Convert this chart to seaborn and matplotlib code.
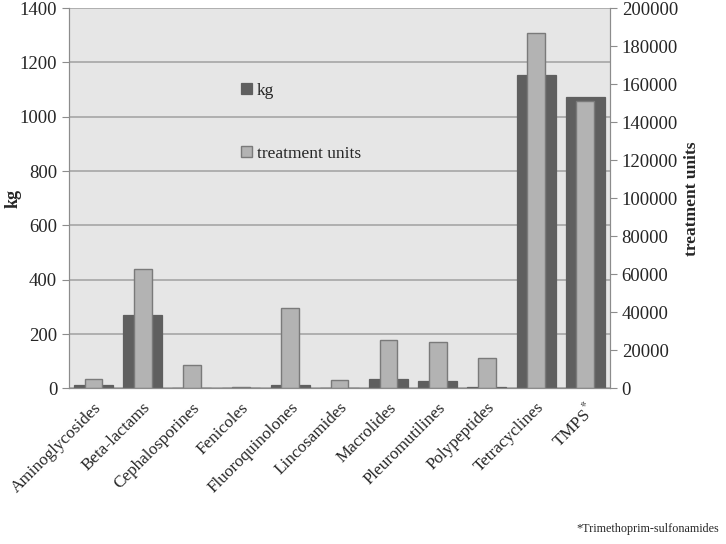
import matplotlib
matplotlib.use('Agg')
import matplotlib.pyplot as plt
import pandas as pd
import seaborn as sns

# Data
categories = ['Aminoglycosides', 'Beta-lactams', 'Cephalosporines', 'Fenicoles',
              'Fluoroquinolones', 'Lincosamides', 'Macrolides', 'Pleuromutilines',
              'Polypeptides', 'Tetracyclines', 'TMPS$^{*}$']
kg = [11, 270, 3, 2, 13, 3, 36, 29, 6, 1153, 1074]
treatment_units = [5200, 63000, 12100, 500, 42300, 4500, 25400, 24300, 16000, 187100, 151000]

df = pd.DataFrame({'category': categories, 'kg': kg, 'units': treatment_units})

sns.set_style('white')
plt.rcParams['font.family'] = ['Liberation Serif', 'DejaVu Serif']
plt.rcParams['mathtext.fontset'] = 'stix'

dark = '#5f5f5f'
light = '#b3b3b3'
grid_c = '#a6a6a6'

fig = plt.figure(figsize=(7.26, 5.44), dpi=100)
ax = fig.add_axes([0.095, 0.286, 0.745, 0.699])
ax.set_facecolor('#e6e6e6')

sns.barplot(data=df, x='category', y='kg', color=dark, saturation=1, width=0.79,
            edgecolor=dark, linewidth=0.9, ax=ax, label='kg')
ax.set_ylim(0, 1400)
ax.set_yticks(range(0, 1401, 200))
ax.yaxis.grid(True, color=grid_c, linewidth=1.2)
ax.set_axisbelow(True)

ax2 = ax.twinx()
sns.barplot(data=df, x='category', y='units', color=light, saturation=1, width=0.36,
            edgecolor='#7a7a7a', linewidth=1, ax=ax2, label='treatment units')
ax2.set_ylim(0, 200000)
ax2.set_yticks(range(0, 200001, 20000))
ax2.set_xlim(-0.5, len(categories) - 0.5)
ax.set_xlim(-0.5, len(categories) - 0.5)

for a in (ax, ax2):
    a.spines['top'].set_visible(False)
    for s in ('left', 'right', 'bottom'):
        a.spines[s].set_color('#8c8c8c')
    a.tick_params(axis='y', direction='out', length=5, color='#8c8c8c', labelsize=13.5)
    a.set_xlabel('')

ax.tick_params(axis='y', left=True)
ax2.tick_params(axis='y', right=True)
ax.set_ylabel('kg', fontsize=13, fontweight='bold')
ax.yaxis.set_label_coords(-0.087, 0.5)
ax2.set_ylabel('treatment units', fontsize=12.5, fontweight='bold')
ax2.yaxis.set_label_coords(1.137, 0.5)

# category ticks: labels at centres, tick marks at boundaries
ax.set_xticks(range(len(categories)))
ax.set_xticklabels(categories, rotation=45, ha='right', rotation_mode='anchor', fontsize=12.3)
ax.tick_params(axis='x', which='major', length=0, pad=8)
ax.set_xticks([i - 0.5 for i in range(len(categories) + 1)], minor=True)
ax.tick_params(axis='x', which='minor', length=5, color='#8c8c8c', direction='out')
ax2.tick_params(axis='x', bottom=False, labelbottom=False)

h1, l1 = ax.get_legend_handles_labels()
h2, l2 = ax2.get_legend_handles_labels()
if ax.get_legend() is not None:
    ax.get_legend().remove()
leg = ax2.legend(h1 + h2, l1 + l2, loc='upper left', bbox_to_anchor=(0.29, 0.845),
                 frameon=False, fontsize=12.5, labelspacing=2.7,
                 handlelength=0.6, handleheight=0.6, handletextpad=0.3)

fig.text(0.99, 0.028, '*Trimethoprim-sulfonamides', ha='right', va='center', fontsize=8.7)

fig.savefig('out.png', dpi=100)
